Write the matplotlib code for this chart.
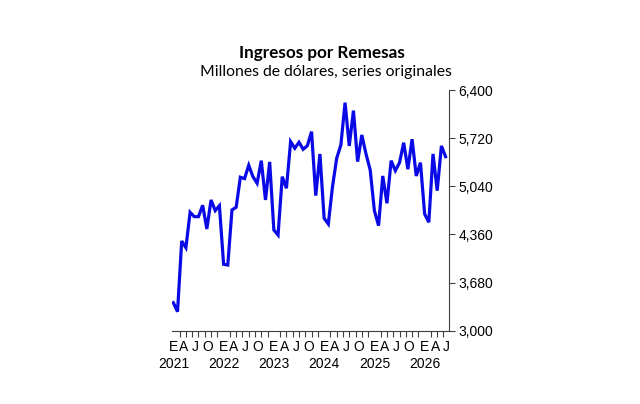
import numpy as np
import matplotlib
matplotlib.use('Agg')
import matplotlib.pyplot as plt
from matplotlib.ticker import FuncFormatter
from matplotlib.transforms import blended_transform_factory, offset_copy

# monthly remittance income, millions of dollars, Jan 2021 .. Jun 2026
start_year = 2021
remesas = [3396, 3268, 4267, 4173, 4673, 4611, 4611, 4772, 4437, 4847, 4696, 4766,
           3938, 3928, 4706, 4744, 5168, 5148, 5337, 5176, 5083, 5402, 4847, 5384,
           4423, 4352, 5176, 5012, 5671, 5577, 5662, 5563, 5614, 5812, 4908, 5497,
           4588, 4508, 5035, 5436, 5624, 6222, 5610, 6109, 5388, 5765, 5497, 5271,
           4696, 4484, 5186, 4800, 5402, 5261, 5374, 5656, 5281, 5705, 5186, 5374,
           4649, 4532, 5497, 4978, 5610, 5459]
quarter_letters = ['E', 'A', 'J', 'O']
y_ticks = [3000, 3680, 4360, 5040, 5720, 6400]

months = np.arange(len(remesas))
x_max = 65.7

fig = plt.figure(figsize=(6.4, 4.04), dpi=100)
ax = fig.add_axes([0.2692, 0.1814, 0.4316, 0.5958])

ax.plot(months, remesas, color='#0A0AE6', lw=2.3, solid_joinstyle='miter')

ax.set_xlim(-0.25, x_max)
ax.set_ylim(3000, 6400)

# y axis on the right
ax.yaxis.tick_right()
ax.set_yticks(y_ticks)
ax.yaxis.set_major_formatter(FuncFormatter(lambda v, p: f'{int(v):,}'))
for s in ['left', 'top']:
    ax.spines[s].set_visible(False)
ax.spines['right'].set_color('#404040')
ax.spines['bottom'].set_color('#404040')

# quarter letters (placed as in the original, a bit uneven), ticks every 1.5 months
offsets = [0, 2.5, 5.25, 8.25]
lab_pos, lab_txt = [], []
for yr in range(len(remesas) // 12 + 1):
    for q, letter in enumerate(quarter_letters):
        p = yr * 12 + offsets[q]
        if p > x_max:
            continue
        lab_pos.append(p)
        lab_txt.append(letter)
ax.set_xticks(lab_pos)
ax.set_xticklabels(lab_txt)
ax.set_xticks(np.arange(0, x_max, 1.5), minor=True)
ax.tick_params(axis='x', which='major', length=0)

ax.tick_params(axis='x', which='minor', direction='out', length=4,
               width=0.8, color='#404040')
ax.tick_params(axis='y', direction='out', length=4, width=0.8, color='#404040')
ax.tick_params(axis='both', labelsize=10, labelcolor='black')
ax.tick_params(axis='x', pad=7)
ax.tick_params(axis='y', pad=3)
for lab in ax.get_xticklabels() + ax.get_yticklabels():
    lab.set_fontfamily('Liberation Sans')

# year row under the January letters
trans = offset_copy(blended_transform_factory(ax.transData, ax.transAxes),
                    fig=fig, y=-19, units='points')
for yr in range(len(remesas) // 12 + 1):
    ax.text(yr * 12, 0, str(start_year + yr), transform=trans, ha='center',
            va='top', fontsize=10, family='Liberation Sans')

fig.text(0.5023, 0.8688, 'Ingresos por Remesas', ha='center', va='center',
         fontsize=12.3, fontweight='bold', family='Lato')
fig.text(0.5094, 0.8225, 'Millones de dólares, series originales', ha='center',
         va='center', fontsize=11.3, family='Lato')

fig.savefig('out.png', dpi=100)
